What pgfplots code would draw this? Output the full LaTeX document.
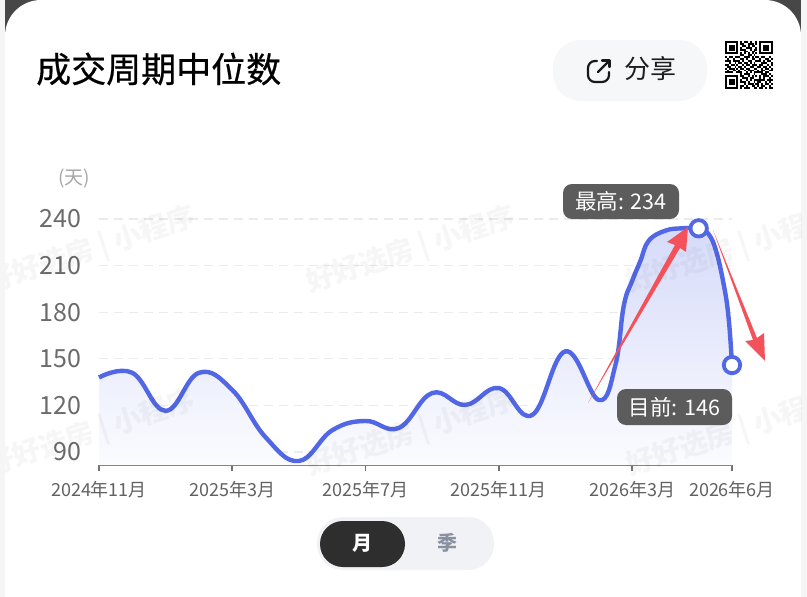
\documentclass[border=0pt]{standalone}
\usepackage{pgfplots}
\usepackage{pgfplotstable}
\pgfplotsset{compat=1.18}
\usepackage{fontspec}
\setmainfont{Noto Sans CJK SC}
\newfontfamily\titlefont[FakeBold=0.6]{Noto Sans CJK SC}
\definecolor{linec}{HTML}{5267E6}
\definecolor{tipc}{HTML}{5C5C5C}
\definecolor{arrowc}{HTML}{F4525A}
\definecolor{panelc}{HTML}{F6F7F9}
\definecolor{togglec}{HTML}{F0F2F6}
\definecolor{seasonc}{HTML}{8A90A0}
\newcount\qrx
\def\qrparse#1{\ifx#1;\else\if#11\fill[black] ({725+\the\qrx*1.9},{41+\qry*1.9}) rectangle ({725+\the\qrx*1.9+1.95},{41+\qry*1.9+1.95});\fi\advance\qrx by 1 \expandafter\qrparse\fi}
\pgfplotstableread{
x y
0 138
1 141
2 116.5
3 141
4 130
5 99.5
6 84.2
7 104
8 110
9 105.5
10 128
11 120.3
12 131.2
13 113.8
14 154.8
15 123.5
15.5 146
15.75 184
16 200
16.25 213
16.5 226
17 232.5
17.5 234
18 234
18.25 231.5
18.5 221
18.75 198
18.9 176
19 146
}\trend
\pgfplotstableread{
x y
18 234
19 146
}\extremes
\begin{document}
\begin{tikzpicture}[x=1pt,y=-1pt]
\path[use as bounding box] (0,0) rectangle (807,597);
% page and card
\fill[white] (0,0) rectangle (807,597);
\fill[black!4] (0,0) rectangle (5,597);
\fill[black!4] (801,0) rectangle (807,597);
\fill[black!72] (5,0) rectangle (801,40);
\fill[white,rounded corners=36pt] (5,0) -- (801,0) -- (801,120) -- (5,120) -- cycle;
\fill[white] (5,40) rectangle (801,597);
% title and share
\node[anchor=west,font=\fontsize{35}{35}\selectfont\titlefont,inner sep=0pt] at (36,69) {成交周期中位数};
\fill[panelc,rounded corners=28pt] (553,40) rectangle (707,101);
\begin{scope}[line width=2.2pt,black!90,line cap=round,line join=round]
\draw[rounded corners=7pt] (597,61) -- (588,61) -- (588,82) -- (609,82) -- (609,72);
\draw (598,72) -- (609.5,60.5);
\draw (602,60.5) -- (609.5,60.5) -- (609.5,67);
\end{scope}
\node[anchor=west,font=\fontsize{26}{26}\selectfont,inner sep=0pt,text=black!88] at (624,69) {分享};
% QR code
\foreach \r [count=\qry from 0] in {
1111111010110100101111111,
1000001011001110101000001,
1011101001101011001011101,
1011101010011100101011101,
1011101011100101101011101,
1000001000110011001000001,
1111111010101010101111111,
0000000011001101000000000,
1011011100111010110110010,
0100100011010011001001101,
1110111101001100111010110,
0010010110110101000111001,
1101101001011011101100101,
0110010110100110011011010,
1011101011011001100101101,
0100110100101110010110011,
1111001110010101111101100,
0000000010111001000111010,
1111111011001010101011101,
1000001001110110001010010,
1011101010010101111110111,
1011101011101001011001010,
1011101000101110110101101,
1000001011010011010110010,
1111111010111001101101011}{
\global\qrx=0
\expandafter\qrparse\r;
}
% y unit
\node[font=\fontsize{19}{19}\selectfont,text=black!35,inner sep=0pt] at (74,179) {(天)};
% chart
\begin{axis}[
  at={(99pt,-465pt)},anchor=origin,
  scale only axis,width=633pt,height=246pt,
  xmin=0,xmax=19,ymin=81.65,ymax=240,
  axis x line*=bottom,axis y line*=left,
  y axis line style={draw=none},
  x axis line style={draw=black!55,line width=1.8pt,-},
  xtick={0,4,8,12,16,19},
  xticklabels={2024年11月,2025年3月,2025年7月,2025年11月,2026年3月,2026年6月},
  ytick={90,120,150,180,210,240},
  tick align=outside,
  xtick style={draw=black!55,line width=1.6pt},
  ytick style={draw=none},
  major tick length=6pt,
  x tick label style={font=\fontsize{18}{18}\selectfont,text=black!62,yshift=-7pt},
  y tick label style={font=\fontsize{25}{25}\selectfont,text=black!58,xshift=-8pt},
  /pgf/number format/assume math mode=true,
  ymajorgrids,
  major grid style={dash pattern=on 9pt off 6pt,line width=1.2pt,draw=black!8},
  clip=false,
]
\addplot[draw=none,smooth,tension=0.7,top color=linec!24,bottom color=linec!2] table {\trend} \closedcycle;
\addplot[linec,line width=4.4pt,smooth,tension=0.7] table {\trend};
\addplot[only marks,mark=*,mark size=8.2pt,mark options={fill=white,draw=linec,line width=3.8pt}] table {\extremes};
\end{axis}
% watermarks
\begin{scope}
\clip (5,120) rectangle (801,597);
\foreach \sx in {103,423,743}
 \foreach \sy in {247,430}
  \node[rotate=18,opacity=0.035,font=\fontsize{28}{28}\selectfont\bfseries,text=black,inner sep=0pt] at (\sx-12,\sy+4) {好好选房 | 小程序};
\end{scope}
% tooltips
\fill[tipc,rounded corners=9pt] (563,184) rectangle (679,219);
\node[white,font=\fontsize{21.5}{21.5}\selectfont,inner sep=0pt] at (621,201.5) {最高: 234};
\fill[tipc,rounded corners=9pt] (617,389) rectangle (732,425);
\node[white,font=\fontsize{21.5}{21.5}\selectfont,inner sep=0pt] at (674.5,407) {目前: 146};
% red arrows
\fill[arrowc] (588,403) -- (675,245) -- (667,242) -- (688,227) -- (686,252) -- (680,248) -- cycle;
\fill[arrowc] (713,230) -- (753,340) -- (745,341) -- (765,361) -- (764,333) -- (757,338) -- cycle;
% toggle
\fill[togglec,rounded corners=26pt] (317,517) rectangle (494,570);
\fill[black!82,rounded corners=23pt] (320,521) rectangle (405,567);
\node[white,font=\fontsize{20}{20}\selectfont\bfseries,inner sep=0pt] at (362,543) {月};
\node[text=seasonc,font=\fontsize{20}{20}\selectfont\bfseries,inner sep=0pt] at (447,543) {季};
\end{tikzpicture}
\end{document}
